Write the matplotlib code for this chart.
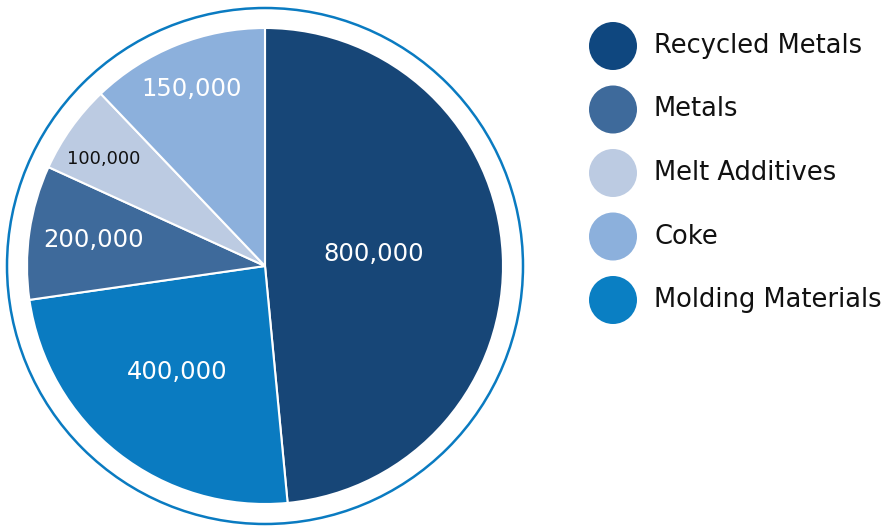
import matplotlib
matplotlib.use('Agg')
import matplotlib.pyplot as plt
from matplotlib.patches import Circle

# data (slice sizes as drawn in the picture, clockwise from top)
categories = ["Recycled Metals", "Molding Materials", "Metals", "Melt Additives", "Coke"]
values = [800000, 400000, 150000, 100000, 200000]
colors = ["#174677", "#0a7bc1", "#3e6a9b", "#bccbe2", "#8cb0dc"]
# printed labels on the slices
value_labels = ["800,000", "400,000", "200,000", "100,000", "150,000"]
label_colors = ["white", "white", "white", "#111111", "white"]
label_sizes = [17.5, 17.5, 17.5, 13, 17.5]
# label positions in pixel coords (x, y from top)
label_pos = [(374, 254), (177, 372), (94, 240), (104, 159), (192, 89)]

legend_order = ["Recycled Metals", "Metals", "Melt Additives", "Coke", "Molding Materials"]
legend_colors = ["#0f477f", "#3e6a9b", "#bccbe2", "#8cb0dc", "#0a7fc3"]

W, H = 885, 527
FONT = "DejaVu Sans"

fig = plt.figure(figsize=(W / 100, H / 100), dpi=100)
ax = fig.add_axes([0, 0, 1, 1])

cx, cy, r = 265, H - 266, 238
ax.pie(values, colors=colors, startangle=90, counterclock=False,
       center=(cx, cy), radius=r, frame=True,
       wedgeprops=dict(edgecolor="white", linewidth=1.5))

ring = Circle((cx, cy), 258, fill=False, edgecolor="#0a7bc1", linewidth=1.8)
ax.add_patch(ring)

for txt, (x, y), c, s in zip(value_labels, label_pos, label_colors, label_sizes):
    ax.text(x, H - y, txt, color=c, fontsize=s, family=FONT,
            ha="center", va="center")

# legend
for i, (name, c) in enumerate(zip(legend_order, legend_colors)):
    y = H - (46 + 63.5 * i)
    ax.add_patch(Circle((613, y), 24, color=c, linewidth=0))
    ax.text(654, y, name, fontsize=18.5, family=FONT, color="#111111",
            ha="left", va="center")

ax.set_xlim(0, W)
ax.set_ylim(0, H)
ax.set_aspect("equal")
ax.axis("off")

fig.savefig("out.png", dpi=100)
